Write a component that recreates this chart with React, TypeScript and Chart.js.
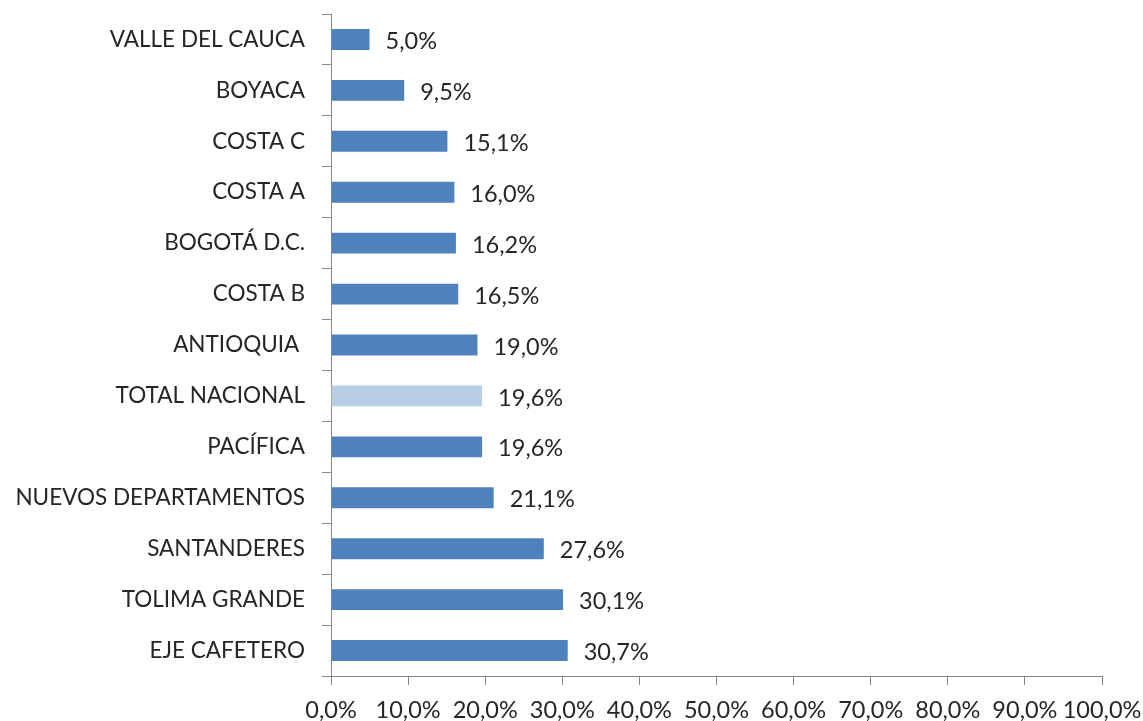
import React, { useEffect, useRef } from "react";
import { Chart, registerables } from "chart.js";

Chart.register(...registerables);

const categories = [
  "VALLE DEL CAUCA",
  "BOYACA",
  "COSTA C",
  "COSTA A",
  "BOGOTÁ D.C.",
  "COSTA B",
  "ANTIOQUIA ",
  "TOTAL NACIONAL",
  "PACÍFICA",
  "NUEVOS DEPARTAMENTOS",
  "SANTANDERES",
  "TOLIMA GRANDE",
  "EJE CAFETERO",
];
const values = [5.0, 9.5, 15.1, 16.0, 16.2, 16.5, 19.0, 19.6, 19.6, 21.1, 27.6, 30.1, 30.7];
const highlight = "TOTAL NACIONAL";
const xTicks = [0, 10, 20, 30, 40, 50, 60, 70, 80, 90, 100];

const FONT = "Lato, 'Liberation Sans', sans-serif";
const fmt = (v: number) => v.toFixed(1).replace(".", ",") + "%";

const zeroPad = (axis: any) => {
  axis.paddingTop = 0;
  axis.paddingBottom = 0;
  axis.paddingLeft = 0;
  axis.paddingRight = 0;
};

const labelPlugin = {
  id: "barLabels",
  afterDatasetsDraw(chart: any) {
    const ctx = chart.ctx;
    const meta = chart.getDatasetMeta(0);
    ctx.save();
    ctx.font = `23.5px ${FONT}`;
    ctx.fillStyle = "#262626";
    ctx.textAlign = "left";
    ctx.textBaseline = "middle";
    meta.data.forEach((bar: any, i: number) => {
      ctx.fillText(fmt(values[i]), bar.x + 16, bar.y + 2);
    });
    ctx.restore();
  },
};

export default function App() {
  const ref = useRef<HTMLCanvasElement>(null);
  useEffect(() => {
    if (!ref.current) return;
    const chart = new Chart(ref.current, {
      type: "bar",
      data: {
        labels: categories,
        datasets: [
          {
            data: values,
            backgroundColor: categories.map((c) => (c === highlight ? "#B9CDE5" : "#4F81BD")),
            barPercentage: 0.41,
            categoryPercentage: 1,
          },
        ],
      },
      options: {
        indexAxis: "y",
        animation: false,
        responsive: false,
        layout: { padding: { top: 14, right: 41, left: 0, bottom: 0 } },
        plugins: { legend: { display: false }, tooltip: { enabled: false } },
        scales: {
          x: {
            min: 0,
            max: 100,
            afterBuildTicks: (axis: any) => {
              axis.ticks = xTicks.map((v) => ({ value: v }));
            },
            afterFit: (axis: any) => {
              axis.height = 45;
              zeroPad(axis);
            },
            grid: {
              display: true,
              drawOnChartArea: false,
              drawTicks: true,
              tickLength: 9,
              color: "#888888",
            },
            border: { color: "#888888", width: 1 },
            ticks: {
              callback: (v: any) => fmt(Number(v)),
              font: { family: FONT, size: 23.5 },
              color: "#262626",
              padding: 11,
              maxRotation: 0,
              autoSkip: false,
            },
          },
          y: {
            afterFit: (axis: any) => {
              axis.width = 331;
              zeroPad(axis);
            },
            grid: {
              display: true,
              drawOnChartArea: false,
              drawTicks: true,
              tickLength: 9,
              color: "#888888",
              offset: true,
            },
            border: { color: "#888888", width: 1 },
            ticks: {
              font: { family: FONT, size: 22.5 },
              color: "#262626",
              padding: 17,
              autoSkip: false,
            },
          },
        },
      },
      plugins: [labelPlugin],
    });
    return () => chart.destroy();
  }, []);
  return (
    <div style={{ position: "absolute", left: 0, top: 0, width: 1143, height: 721 }}>
      <canvas ref={ref} width={1143} height={721} style={{ width: 1143, height: 721 }} />
    </div>
  );
}
